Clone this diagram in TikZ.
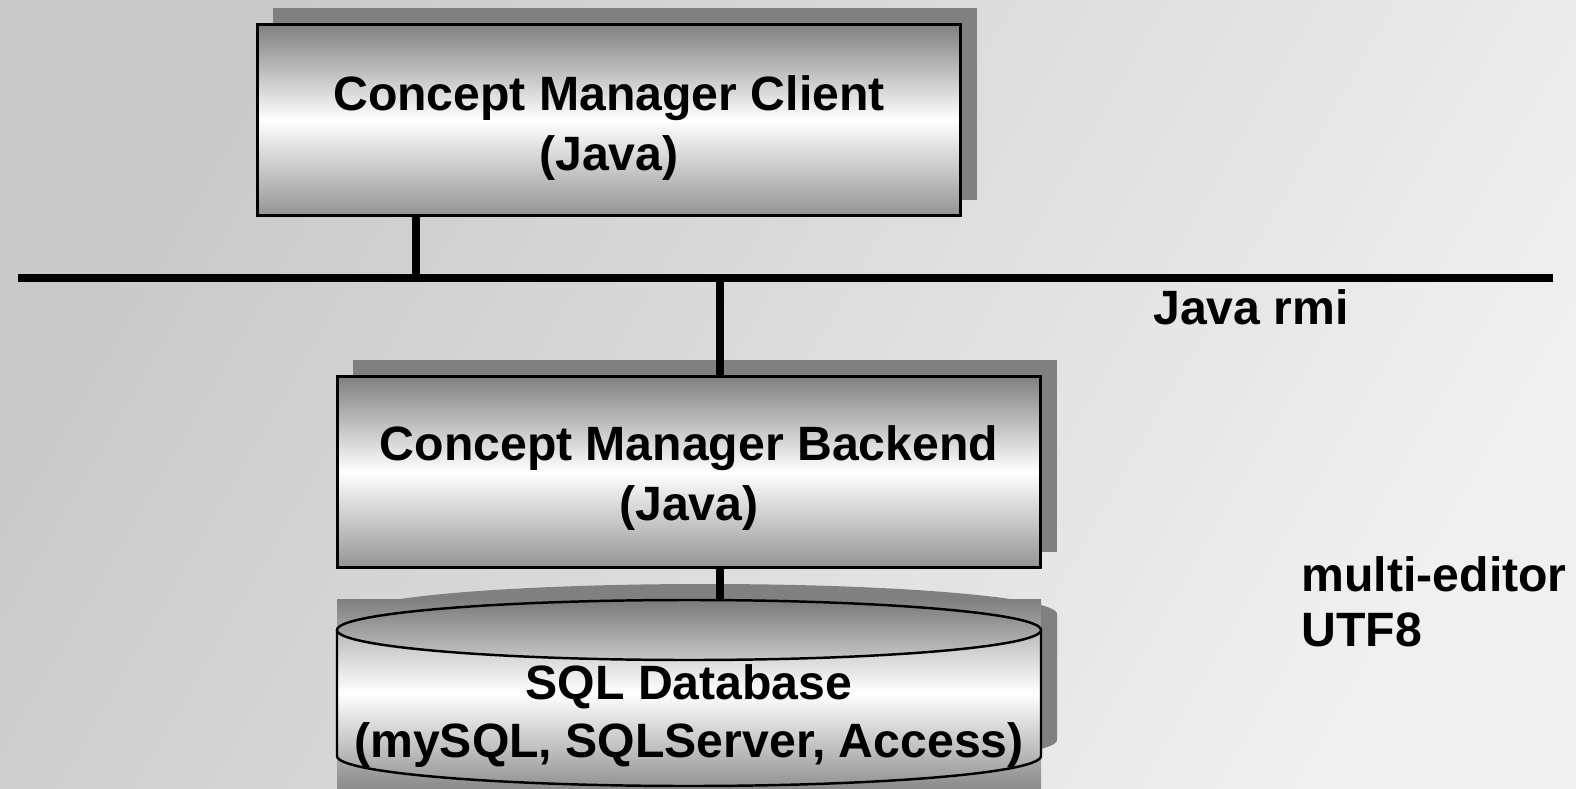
\documentclass[tikz,border=0pt]{standalone}
\usepackage{fontspec}
\setmainfont{Liberation Sans}
\usetikzlibrary{shadows, positioning}

\tikzset{
  tier/.style={draw, line width=0.7pt, minimum width=7.03cm, minimum height=1.91cm,
    top color=black!50, bottom color=black!42, middle color=white,
    drop shadow={shadow xshift=0.16cm, shadow yshift=0.16cm, fill=black!50, opacity=1}},
  tiertext/.style={align=center, font=\fontsize{13.7}{17}\selectfont\bfseries},
  lbl/.style={align=left, inner sep=0pt, font=\fontsize{13.7}{15.7}\selectfont\bfseries},
  bus/.style={line width=2.3pt},
  link/.style={line width=2pt}
}

\begin{document}
\begin{tikzpicture}[x=0.01cm, y=-0.01cm]
      \useasboundingbox (0,0) rectangle (1576,788);
      \shade[left color=black!21, right color=black!6, shading angle=60] (0,0) rectangle (1576,788);

      \draw (609,120) node[tier] (CL) {};
      \node[tiertext] (CLt) at ([yshift=-0.08cm]CL.center) {Concept Manager Client\\(Java)};
      \draw (689,472) node[tier] (BE) {};
      \node[tiertext] (BEt) at ([yshift=-0.06cm]BE.center) {Concept Manager Backend\\(Java)};

      % bus
      \coordinate (busL) at (18,278);
      \coordinate (busR) at (1553,278);
      \coordinate (cltap) at (416,278);
      \coordinate (betap) at (720,278);
      \draw[bus] (busL) -- (busR);
      \draw[link] (CL.south -| cltap) -- (cltap);
      \draw[link] (betap) -- (betap |- BE.north);
      \draw (1251,307) node[lbl] (rmi) {Java rmi};

      % database
      \begin{scope}[shift={(16,-16)}]
        \fill[black!50] (337,630) -- (337,756) arc[start angle=180, end angle=0, x radius=352, y radius=30]
          -- (1041,630) arc[start angle=0, end angle=-180, x radius=352, y radius=30] -- cycle;
      \end{scope}
      \shade[top color=black!50, bottom color=black!45, middle color=black!8] (337,599) rectangle (1041,788);
      \shade[top color=black!40, bottom color=black!42, middle color=white]
        (337,630) -- (337,756) arc[start angle=180, end angle=0, x radius=352, y radius=30]
        -- (1041,630) arc[start angle=0, end angle=-180, x radius=352, y radius=30] -- cycle;
      \draw[line width=0.7pt] (337,630) -- (337,756) arc[start angle=180, end angle=0, x radius=352, y radius=30]
        -- (1041,630);
      \shade[draw, line width=0.7pt, top color=black!52, bottom color=black!22] (689,630) ellipse[x radius=352, y radius=30];
      \coordinate (dbtop) at (720,600);
      \draw (689,716) node[tiertext, font=\fontsize{13.7}{16.5}\selectfont\bfseries] (DB) {SQL Database\\(mySQL, SQLServer, Access)};
      \draw[link] (BE.south -| betap) -- (dbtop);

      \draw (1301,602) node[lbl, anchor=west] (enc) {multi-editor\\UTF8};
    \end{tikzpicture}
\end{document}
